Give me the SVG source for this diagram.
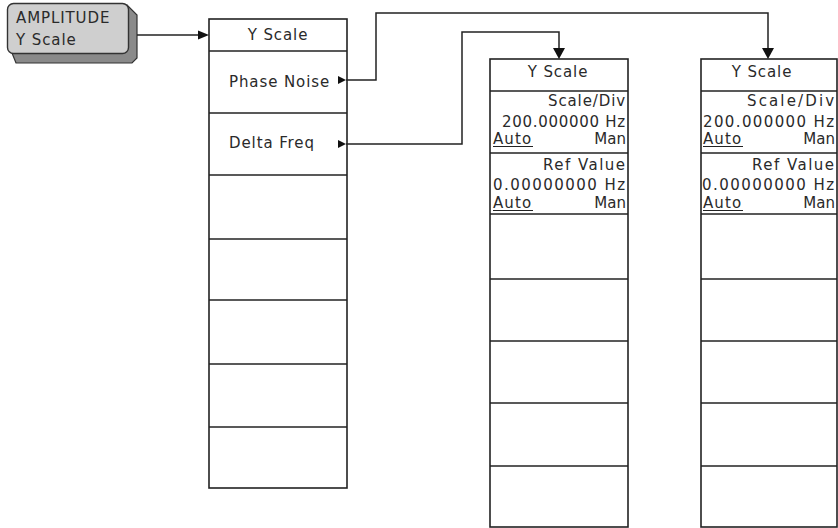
<svg xmlns="http://www.w3.org/2000/svg" width="838" height="528" viewBox="0 0 838 528">
<style>
.box{fill:#fff;stroke:#222;stroke-width:1.6}
.div{stroke:#222;stroke-width:1.6}
.t{font-family:"DejaVu Sans","Liberation Sans",sans-serif;font-size:15px;fill:#2a2a2a;letter-spacing:0.9px}
.m{font-family:"DejaVu Sans","Liberation Sans",sans-serif;font-size:15px;fill:#2a2a2a;letter-spacing:0px}
.c{stroke:#222;stroke-width:1.5;fill:none}
.ah{fill:#111}
.ul{stroke:#222;stroke-width:1.2}
</style>
<rect width="838" height="528" fill="#fff"/>
<g id="key-amplitude">
  <path d="M12,53 L16,63 L132,63 L137,58 L137,15 L127,5 Z" fill="#8a8a8a" stroke="#333" stroke-width="1.2"/>
  <rect x="7.5" y="3.5" width="121" height="50" rx="6" fill="#cfcfcf" stroke="#333" stroke-width="1.4"/>
  <text class="t" x="16" y="23">AMPLITUDE</text>
  <text class="t" x="16" y="45">Y Scale</text>
</g>
<g id="menu-yscale">
  <rect class="box" x="209" y="19" width="138" height="469"/>
  <line class="div" x1="209" y1="51" x2="347" y2="51"/>
  <line class="div" x1="209" y1="113" x2="347" y2="113"/>
  <line class="div" x1="209" y1="175" x2="347" y2="175"/>
  <line class="div" x1="209" y1="239" x2="347" y2="239"/>
  <line class="div" x1="209" y1="300" x2="347" y2="300"/>
  <line class="div" x1="209" y1="364" x2="347" y2="364"/>
  <line class="div" x1="209" y1="427" x2="347" y2="427"/>
  <text class="t" x="278" y="40" text-anchor="middle">Y Scale</text>
  <text class="t" x="229" y="87">Phase Noise</text>
  <text class="t" x="229" y="148">Delta Freq</text>
</g>
<g id="menu-phase-noise">
  <rect class="box" x="490" y="59" width="138" height="468"/>
  <line class="div" x1="490" y1="91" x2="628" y2="91"/>
  <line class="div" x1="490" y1="153" x2="628" y2="153"/>
  <line class="div" x1="490" y1="214" x2="628" y2="214"/>
  <line class="div" x1="490" y1="279" x2="628" y2="279"/>
  <line class="div" x1="490" y1="341" x2="628" y2="341"/>
  <line class="div" x1="490" y1="403" x2="628" y2="403"/>
  <line class="div" x1="490" y1="466" x2="628" y2="466"/>
  <text class="t" x="558" y="77" text-anchor="middle">Y Scale</text>
  <text class="t" x="626" y="106" text-anchor="end" textLength="78">Scale/Div</text>
  <text class="t" x="502" y="127" textLength="124">200.000000 Hz</text>
  <text class="t" x="493" y="144" textLength="39">Auto</text>
  <line class="ul" x1="493" y1="146.5" x2="533" y2="146.5"/>
  <text class="m" x="626" y="144" text-anchor="end">Man</text>
  <text class="t" x="626" y="170" text-anchor="end" textLength="83">Ref Value</text>
  <text class="t" x="493" y="190" textLength="133">0.00000000 Hz</text>
  <text class="t" x="493" y="208" textLength="39">Auto</text>
  <line class="ul" x1="493" y1="210.5" x2="533" y2="210.5"/>
  <text class="m" x="626" y="208" text-anchor="end">Man</text>
</g>
<g id="menu-delta-freq">
  <rect class="box" x="701" y="59" width="136" height="468"/>
  <line class="div" x1="701" y1="91" x2="837" y2="91"/>
  <line class="div" x1="701" y1="153" x2="837" y2="153"/>
  <line class="div" x1="701" y1="214" x2="837" y2="214"/>
  <line class="div" x1="701" y1="279" x2="837" y2="279"/>
  <line class="div" x1="701" y1="341" x2="837" y2="341"/>
  <line class="div" x1="701" y1="403" x2="837" y2="403"/>
  <line class="div" x1="701" y1="466" x2="837" y2="466"/>
  <text class="t" x="762" y="77" text-anchor="middle">Y Scale</text>
  <text class="t" x="835" y="106" text-anchor="end" textLength="88">Scale/Div</text>
  <text class="t" x="703" y="127" textLength="132">200.000000 Hz</text>
  <text class="t" x="703" y="144" textLength="39">Auto</text>
  <line class="ul" x1="703" y1="146.5" x2="743" y2="146.5"/>
  <text class="m" x="835" y="144" text-anchor="end">Man</text>
  <text class="t" x="835" y="170" text-anchor="end" textLength="83">Ref Value</text>
  <text class="t" x="702" y="190" textLength="133">0.00000000 Hz</text>
  <text class="t" x="703" y="208" textLength="39">Auto</text>
  <line class="ul" x1="703" y1="210.5" x2="743" y2="210.5"/>
  <text class="m" x="835" y="208" text-anchor="end">Man</text>
</g>
<g id="connectors">
  <path class="c" d="M137,35 H199"/>
  <polygon class="ah" points="198,30.5 209,35 198,39.5"/>
  <polygon class="ah" points="338,76 346,80 338,84"/>
  <path class="c" d="M346,80 H376 V13 H768 V50"/>
  <polygon class="ah" points="762,48 774,48 768,59"/>
  <polygon class="ah" points="338,140 346,144 338,148"/>
  <path class="c" d="M346,144 H462 V32 H559 V50"/>
  <polygon class="ah" points="553,48 565,48 559,59"/>
</g>
</svg>
